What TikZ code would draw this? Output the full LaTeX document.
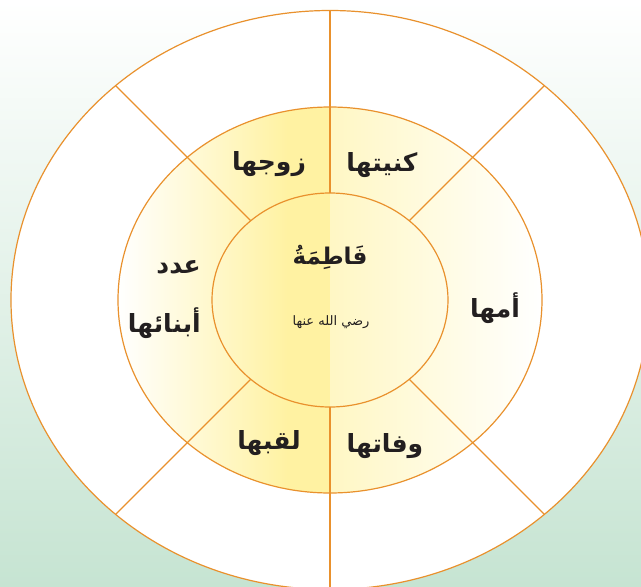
\documentclass[tikz,border=0pt]{standalone}
\usepackage{fontspec}
\usetikzlibrary{shapes.geometric}
\newfontfamily\arabicfont[Script=Arabic]{DejaVu Sans}
\newfontfamily\arabicbold[Script=Arabic]{DejaVu Sans Bold}
\TeXXeTstate=1
\definecolor{ring}{RGB}{233,145,45}
\definecolor{bgmid}{RGB}{238,246,242}
\definecolor{bgbot}{RGB}{198,228,210}
\definecolor{yelA}{RGB}{255,242,162}
\definecolor{yelB}{RGB}{255,247,196}
\definecolor{ink}{RGB}{35,31,32}
\pgfdeclarehorizontalshading{fatshade}{100bp}{color(0bp)=(white); color(25bp)=(white); color(45bp)=(yelA); color(49.9bp)=(yelA); color(50bp)=(yelB); color(75bp)=(white); color(100bp)=(white)}
\tikzset{
  ringell/.style={ellipse, draw=ring, line width=1.2pt, inner sep=0pt, outer sep=0pt},
  ringline/.style={draw=ring, line width=1.2pt},
  lbl/.style={font=\arabicbold\fontsize{25}{30}\selectfont, inner sep=0pt, text=ink},
}
\begin{document}
\begin{tikzpicture}[x=1pt, y=-1pt]
  \useasboundingbox (0,0) rectangle (641,587);
  \shade[top color=white, middle color=bgmid, bottom color=bgbot] (0,0) rectangle (641,587);
  \node[ringell, fill=white, minimum width=638pt, minimum height=579pt] (outer) at (330,300) {};
  \node[ringell, shading=fatshade, minimum width=424pt, minimum height=386pt] (middle) at (330,300) {};
  \node[ringell, minimum width=236pt, minimum height=214pt] (inner) at (330,300) {};
  \foreach \a in {45,90,135,225,270,315}
    \draw[ringline] (inner.\a) -- (outer.\a);
  \node[lbl] (zawj) at (269,164) {\beginR زوجها\endR};
  \node[lbl] (kunya) at (382,165) {\beginR كنيتها\endR};
  \node[lbl] (umm) at (495,308) {\beginR أمها\endR};
  \node[lbl] (wafat) at (385,446) {\beginR وفاتها\endR};
  \node[lbl] (laqab) at (269,443) {\beginR لقبها\endR};
  \node[lbl, anchor=east] (adad) at (201,267) {\beginR عدد\endR};
  \node[lbl, anchor=east] (abna) at (201,323) {\beginR أبنائها\endR};
  \node[lbl, font=\arabicbold\fontsize{23}{28}\selectfont] (fatima) at (330,257) {\beginR فَاطِمَةُ\endR};
  \node[lbl, font=\arabicfont\fontsize{13}{15}\selectfont] (radi) at (331,322) {\beginR رضي الله عنها\endR};
\end{tikzpicture}
\end{document}
